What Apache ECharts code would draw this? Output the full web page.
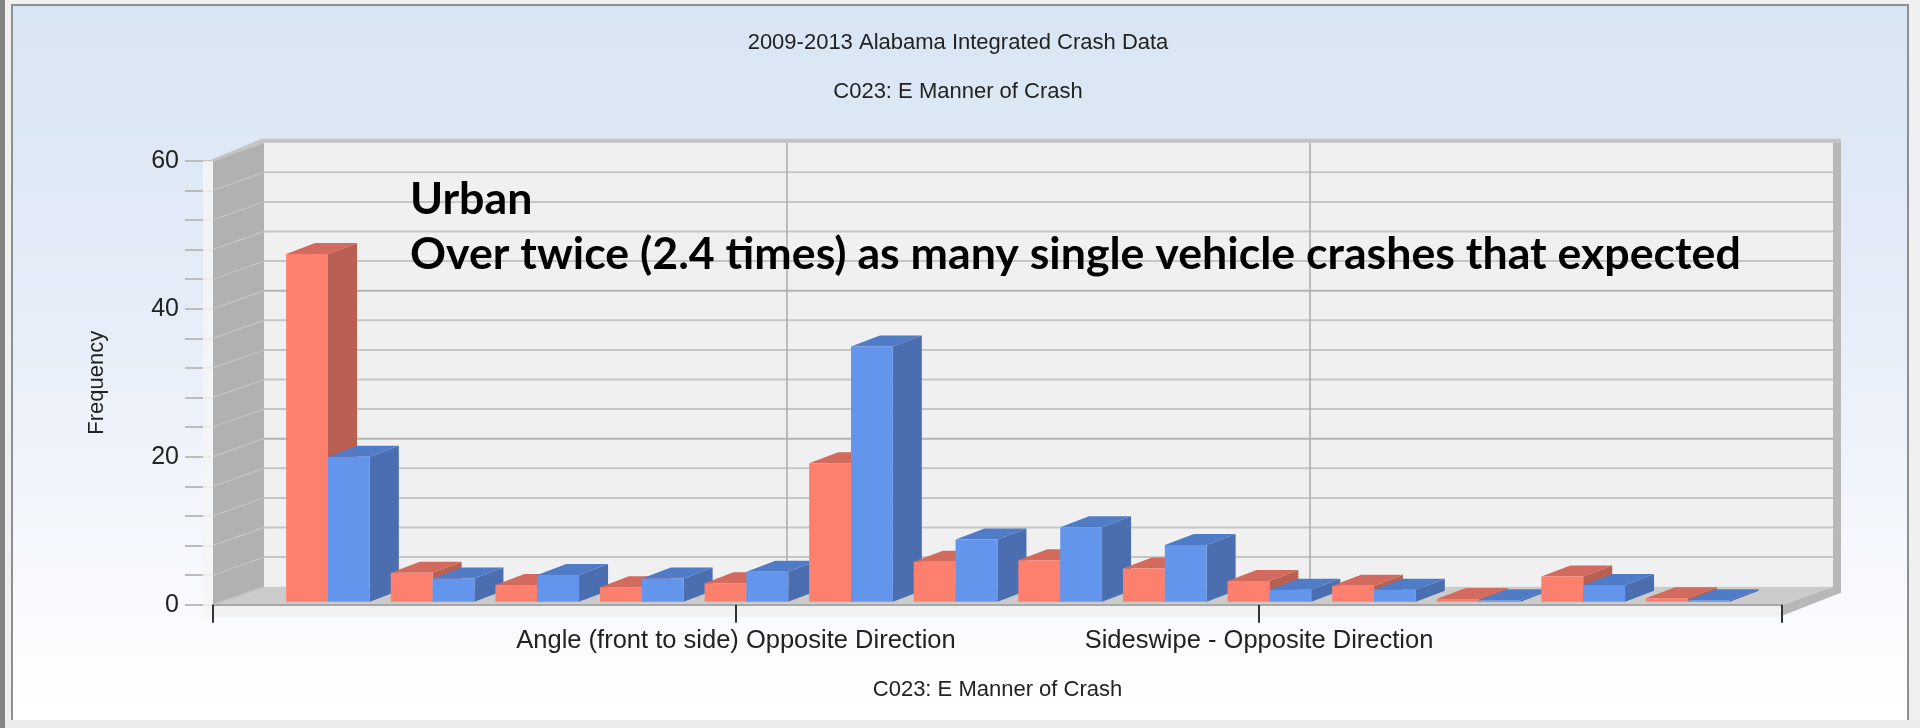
<!DOCTYPE html>
<html>

<head>
    <meta charset="utf-8">
    <title>2009-2013 Alabama Integrated Crash Data</title>
    <style>
        html,
        body,
        #main {
            padding: 0;
            margin: 0;
            width: 1920px;
            height: 728px;
            overflow: hidden;
            background: #f0f0f0;
        }
    </style>
    <script src="https://cdn.jsdelivr.net/npm/echarts@6/dist/echarts.min.js"></script>
</head>

<body>
    <div id="main"></div>
    <script>
        // values
        var positions = [1, 2, 3, 4, 5, 6, 7, 8, 9, 10, 11, 12, 13, 14];
        var redValues = [47, 3.9, 2.25, 1.95, 2.5, 18.7, 5.4, 5.6, 4.5, 2.8, 2.15, 0.35, 3.4, 0.45];
        var blueValues = [19.6, 3.15, 3.6, 3.15, 4.05, 34.5, 8.4, 10.05, 7.65, 1.6, 1.6, 0.2, 2.25, 0.2];
        var xTickValues = [0, 5, 10, 15];
        var xTickLabels = ['', 'Angle (front to side) Opposite Direction', 'Sideswipe - Opposite Direction', ''];
        var gridValues = [0, 4, 8, 12, 16, 20, 24, 28, 32, 36, 40, 44, 48, 52, 56, 60];

        var titleText = '2009-2013 Alabama Integrated Crash Data';
        var subTitleText = 'C023: E Manner of Crash';
        var xAxisName = 'C023: E Manner of Crash';
        var yAxisName = 'Frequency';
        var noteLines = ['Urban', 'Over twice (2.4 times) as many single vehicle crashes that expected'];

        var textFont = '"Liberation Sans", Arial, sans-serif';
        var wallX = 51, wallY = 18;   // how far the back wall sits behind the front plane
        var barX = 29, barY = 11;     // depth of a bar
        var barShiftX = 10.4, barShiftY = -3;

        function poly(points, color, z2) {
            return {
                type: 'polygon',
                shape: { points: points },
                style: { fill: color },
                z2: z2 || 0,
                silent: true
            };
        }

        function line(x1, y1, x2, y2, color, width) {
            return {
                type: 'line',
                shape: { x1: x1, y1: y1, x2: x2, y2: y2 },
                style: { stroke: color, lineWidth: width, fill: null },
                silent: true
            };
        }

        // back wall, left wall, floor and the outer rims of the box
        function renderBox(params, api) {
            var a = api.coord([0, 60]);
            var b = api.coord([0, 0]);
            var c = api.coord([15, 0]);
            var kids = [
                { type: 'rect', shape: { x: a[0] - 10, y: a[1], width: 10, height: b[1] - a[1] + 12 }, style: { fill: 'rgba(244,244,244,0.85)' } },
                { type: 'rect', shape: { x: b[0], y: b[1], width: c[0] - b[0], height: 12 }, style: { fill: 'rgba(240,240,240,0.95)' } },
                { type: 'rect', shape: { x: a[0] + wallX, y: a[1] - wallY, width: c[0] - a[0], height: b[1] - a[1] }, style: { fill: '#f0f0f0' } },
                poly([[c[0] + wallX, a[1] - wallY - 3], [c[0] + wallX + 8, a[1] - wallY - 3], [c[0] + wallX + 8, c[1] - wallY + 6], [c[0], c[1] + 11], [c[0], c[1]], [c[0] + wallX, c[1] - wallY]], '#b8b8b8'),
                poly([[a[0], a[1]], [a[0] + wallX, a[1] - wallY], [c[0] + wallX + 8, a[1] - wallY], [c[0] + wallX + 8, a[1] - wallY - 4], [a[0] + wallX - 2, a[1] - wallY - 4], [a[0] - 2, a[1] - 1]], '#c4c4c4'),
                poly([[a[0], a[1]], [a[0] + wallX, a[1] - wallY], [b[0] + wallX, b[1] - wallY], [b[0], b[1]]], '#b1b1b1'),
                poly([[b[0], b[1]], [c[0], c[1]], [c[0] + wallX, c[1] - wallY], [b[0] + wallX, b[1] - wallY]], '#cbcbcb')
            ];
            return { type: 'group', children: kids };
        }

        function renderGridLine(params, api) {
            var p = api.coord([0, api.value(0)]);
            var q = api.coord([15, api.value(0)]);
            var major = api.value(0) % 20 === 0;
            var kids = [
                line(p[0], p[1], p[0] + wallX, p[1] - wallY, '#c2c2c2', 1.5)
            ];
            if (api.value(0) !== 0 && api.value(0) !== 60) {
                kids.push(line(p[0] + wallX, p[1] - wallY, q[0] + wallX, q[1] - wallY, major ? '#b4b4b4' : '#c6c6c6', 2));
            }
            return { type: 'group', children: kids };
        }

        function renderDropLine(params, api) {
            var p = api.coord([api.value(0), 60]);
            var q = api.coord([api.value(0), 0]);
            return line(p[0] + wallX, p[1] - wallY, q[0] + wallX, q[1] - wallY, '#ababab', 1.5);
        }

        function barRenderer(order, front, top, side) {
            return function (params, api) {
                var x = api.value(0);
                var w = api.size([1, 0])[0] * 0.4;
                var t = api.coord([x, api.value(1)]);
                var b = api.coord([x, 0]);
                var x0 = t[0] + barShiftX - w + order * w;
                var x1 = x0 + w;
                var yt = t[1] + barShiftY;
                var yb = b[1] + barShiftY;
                var z2 = x * 10 + order;
                return {
                    type: 'group',
                    children: [
                        poly([[x1, yt], [x1 + barX, yt - barY], [x1 + barX, yb - barY], [x1, yb]], side, z2),
                        poly([[x0, yt], [x1, yt], [x1 + barX, yt - barY], [x0 + barX, yt - barY]], top, z2),
                        { type: 'rect', shape: { x: x0, y: yt, width: w, height: yb - yt }, style: { fill: front }, z2: z2 }
                    ]
                };
            };
        }

        function pairs(xs, ys) {
            return xs.map(function (x, i) {
                return [x, ys[i]];
            });
        }

        var myChart = echarts.init(document.getElementById('main'), null, { width: 1920, height: 728 });

        myChart.setOption({
            animation: false,
            backgroundColor: '#f0f0f0',
            title: [{
                text: titleText,
                left: 953,
                top: 27,
                textAlign: 'center',
                textStyle: { fontFamily: textFont, fontSize: 22, fontWeight: 'normal', color: '#222' }
            }, {
                text: subTitleText,
                left: 953,
                top: 76,
                textAlign: 'center',
                textStyle: { fontFamily: textFont, fontSize: 22, fontWeight: 'normal', color: '#222' }
            }],
            grid: { left: 213, right: 138, top: 160.7, bottom: 123.3 },
            xAxis: {
                type: 'value',
                min: 0,
                max: 15,
                interval: 5,
                z: 5,
                name: xAxisName,
                nameLocation: 'middle',
                nameGap: 74,
                nameTextStyle: { fontFamily: textFont, fontSize: 22, color: '#222' },
                splitLine: { show: false },
                axisLine: { show: true, onZero: false, lineStyle: { color: '#a8a8a8', width: 2 } },
                axisTick: { show: true, length: 18, lineStyle: { color: '#333', width: 2 } },
                axisLabel: {
                    margin: 23,
                    fontFamily: textFont,
                    fontSize: 25.5,
                    color: '#222',
                    formatter: function (v) {
                        return xTickLabels[xTickValues.indexOf(v)];
                    }
                }
            },
            yAxis: {
                type: 'value',
                min: 0,
                max: 60,
                interval: 20,
                name: yAxisName,
                nameLocation: 'middle',
                nameGap: 105,
                nameTextStyle: { fontFamily: textFont, fontSize: 22, color: '#222' },
                splitLine: { show: false },
                axisLine: { show: false },
                axisTick: { show: true, length: 28, lineStyle: { color: '#bcbcbc', width: 2 } },
                minorTick: { show: true, splitNumber: 5, length: 28, lineStyle: { color: '#bcbcbc', width: 2 } },
                axisLabel: { margin: 34, fontFamily: textFont, fontSize: 25, color: '#222' }
            },
            graphic: [
                { type: 'rect', z: -10, silent: true, shape: { x: 11, y: 4, width: 1898, height: 718 }, style: { fill: '#8f8f8f' } },
                {
                    type: 'rect',
                    z: -9,
                    silent: true,
                    shape: { x: 13, y: 6, width: 1894, height: 714 },
                    style: {
                        fill: new echarts.graphic.LinearGradient(0, 0, 0, 1, [
                            { offset: 0, color: '#d8e5f3' },
                            { offset: 0.4, color: '#e5ecf8' },
                            { offset: 1, color: '#ffffff' }
                        ])
                    }
                },
                { type: 'rect', z: -8, silent: true, shape: { x: 0, y: 720, width: 1920, height: 8 }, style: { fill: '#ececec' } },
                { type: 'rect', z: -8, silent: true, shape: { x: 0, y: 0, width: 5, height: 728 }, style: { fill: '#858585' } },
                {
                    type: 'text',
                    z: 50,
                    silent: true,
                    x: 410,
                    y: 200,
                    style: { text: noteLines[0], fontFamily: 'Lato, sans-serif', fontWeight: 'bold', fontSize: 44.7, fill: '#000', verticalAlign: 'middle' }
                },
                {
                    type: 'text',
                    z: 50,
                    silent: true,
                    x: 410,
                    y: 255,
                    style: { text: noteLines[1], fontFamily: 'Lato, sans-serif', fontWeight: 'bold', fontSize: 44.7, fill: '#000', verticalAlign: 'middle' }
                }
            ],
            series: [{
                type: 'custom',
                name: 'box',
                z: 1,
                silent: true,
                renderItem: renderBox,
                data: [[0, 0]]
            }, {
                type: 'custom',
                name: 'grid lines',
                z: 1,
                silent: true,
                renderItem: renderGridLine,
                encode: { y: 0 },
                data: gridValues.map(function (v) { return [v]; })
            }, {
                type: 'custom',
                name: 'drop lines',
                z: 1,
                silent: true,
                renderItem: renderDropLine,
                encode: { x: 0 },
                data: [[5], [10]]
            }, {
                type: 'custom',
                name: 'red',
                z: 3,
                renderItem: barRenderer(0, '#fd806f', '#d26a5d', '#ba6052'),
                encode: { x: 0, y: 1 },
                data: pairs(positions, redValues)
            }, {
                type: 'custom',
                name: 'blue',
                z: 3,
                renderItem: barRenderer(1, '#6495ed', '#507bc6', '#4b6eb1'),
                encode: { x: 0, y: 1 },
                data: pairs(positions, blueValues)
            }]
        });
    </script>
</body>

</html>
